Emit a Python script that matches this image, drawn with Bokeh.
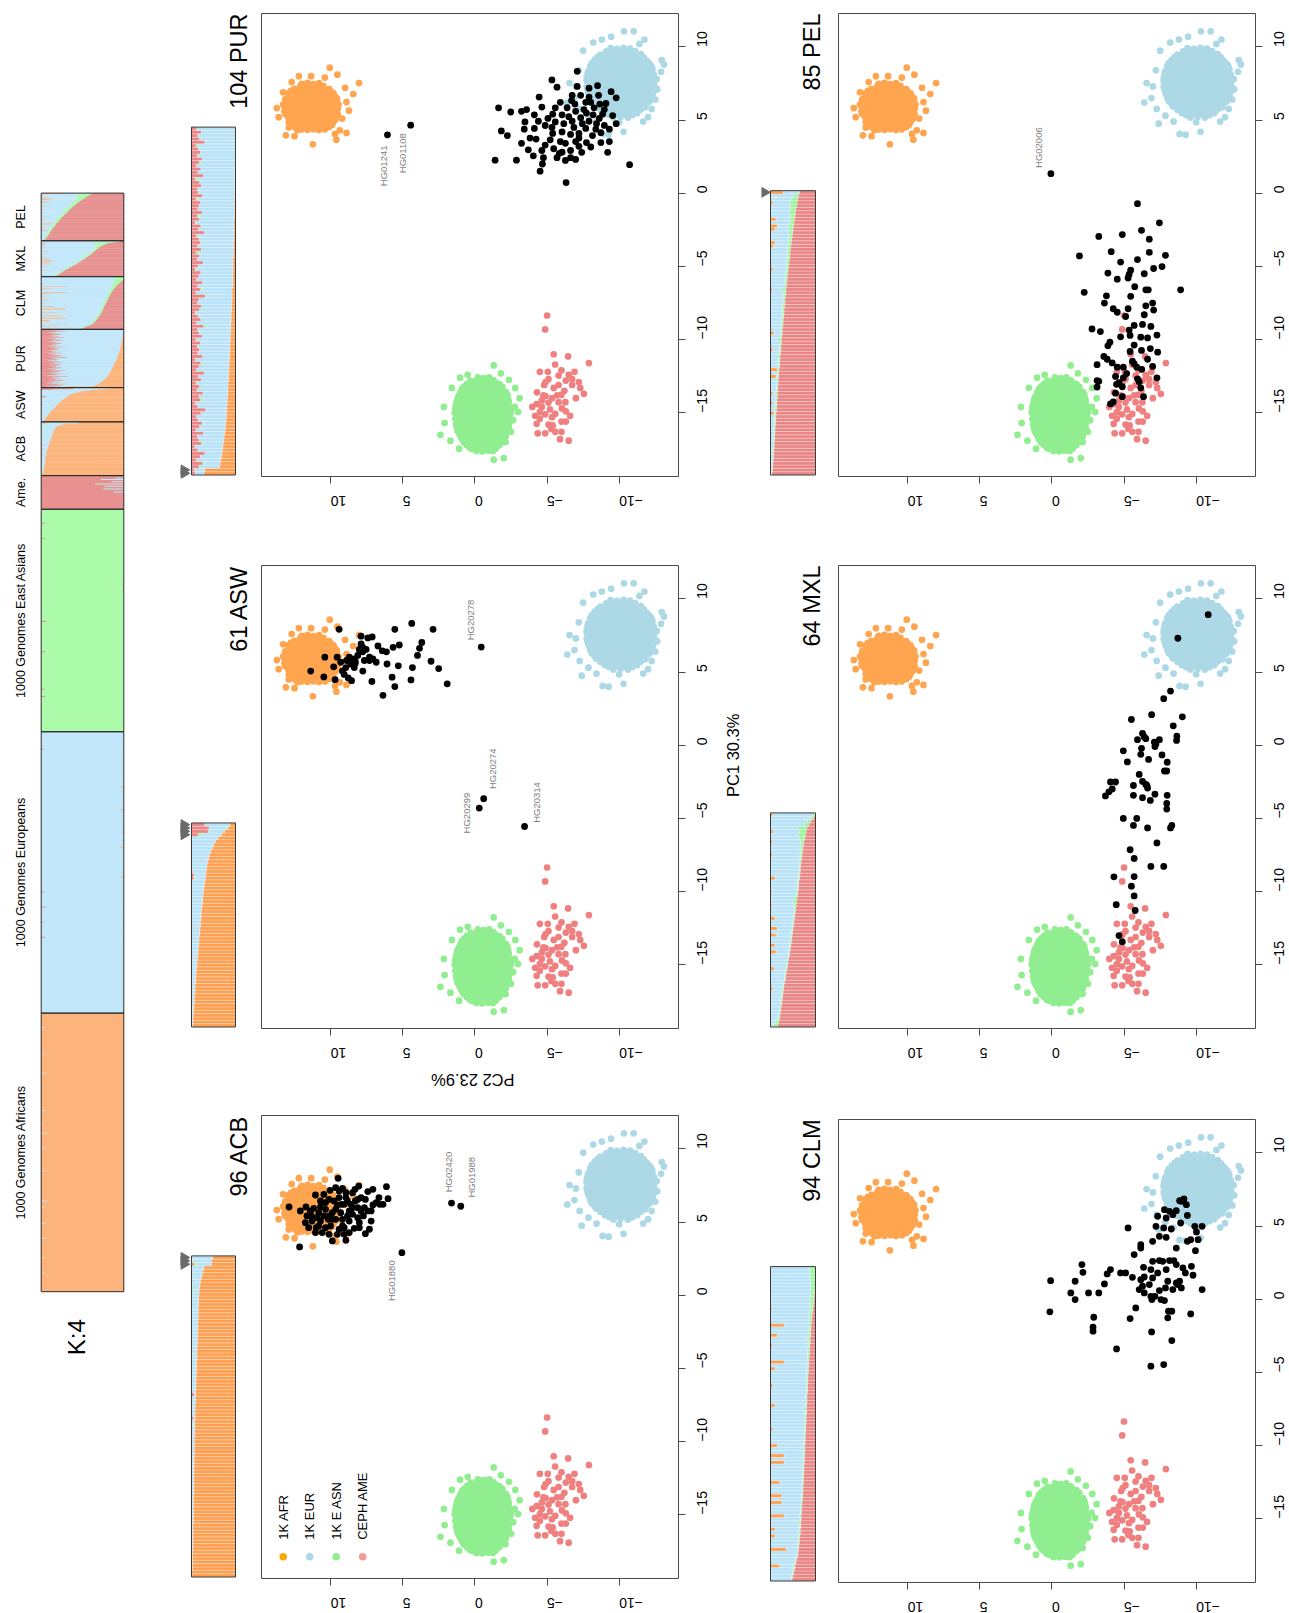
import math
from bokeh.plotting import figure
from bokeh.models import Range1d, LinearAxis, FixedTicker
from bokeh.layouts import row, column
from bokeh.embed import file_html
from bokeh.resources import INLINE
from bokeh.core.properties import value

# ------------------------------------------------------------------
# PCA coordinates (PC2, PC1) of the reference panels, shared by all plots
# ------------------------------------------------------------------
AFR_REF = [
    (10.8,7.52),(11.2,7.46),(11.6,7.55),(12.0,7.47),
    (10.1,7.12),(10.5,7.2),(10.9,7.13),(11.3,7.18),(11.7,7.11),(12.1,7.19),(12.5,7.14),
    (9.8,6.83),(10.2,6.77),(10.6,6.84),(11.0,6.78),(11.4,6.82),(11.8,6.76),(12.2,6.84),(12.6,6.79),(12.95,6.83),
    (9.55,6.47),(9.95,6.42),(10.35,6.48),(10.75,6.43),(11.15,6.47),(11.55,6.41),(11.95,6.48),(12.35,6.44),(12.75,6.46),(13.15,6.42),
    (9.45,6.08),(9.85,6.13),(10.25,6.07),(10.65,6.12),(11.05,6.09),(11.45,6.13),(11.85,6.07),(12.25,6.11),(12.65,6.08),(13.05,6.12),(13.3,6.06),
    (9.5,5.77),(9.9,5.72),(10.3,5.78),(10.7,5.73),(11.1,5.76),(11.5,5.71),(11.9,5.78),(12.3,5.74),(12.7,5.77),(13.1,5.72),
    (9.5,5.38),(9.9,5.43),(10.3,5.37),(10.7,5.42),(11.1,5.39),(11.5,5.43),(11.9,5.37),(12.3,5.41),(12.7,5.38),(13.15,5.42),
    (9.65,5.07),(10.05,5.02),(10.45,5.08),(10.85,5.03),(11.25,5.06),(11.65,5.01),(12.05,5.08),(12.45,5.04),(12.85,5.07),
    (9.9,4.68),(10.3,4.73),(10.7,4.67),(11.1,4.72),(11.5,4.69),(11.9,4.73),(12.3,4.67),(12.75,4.71),
    (10.4,4.37),(10.8,4.32),(11.2,4.38),(11.6,4.33),(12.0,4.36),(12.3,4.31),
    (10.5,7.33),(10.9,7.36),(11.3,7.31),(11.7,7.35),(12.1,7.32),
    (10.0,6.97),(10.4,7.0),(10.8,6.96),(11.2,7.0),(11.6,6.95),(12.0,6.99),(12.4,6.96),(12.75,7.0),
    (9.7,6.62),(10.1,6.65),(10.5,6.61),(10.9,6.64),(11.3,6.6),(11.7,6.65),(12.1,6.62),(12.5,6.64),(12.9,6.61),
    (9.6,6.27),(10.0,6.3),(10.4,6.26),(10.8,6.29),(11.2,6.25),(11.6,6.3),(12.0,6.27),(12.4,6.29),(12.8,6.26),(13.15,6.3),
    (9.6,5.92),(10.0,5.95),(10.4,5.91),(10.8,5.94),(11.2,5.9),(11.6,5.95),(12.0,5.92),(12.4,5.94),(12.8,5.91),(13.2,5.95),
    (9.6,5.57),(10.0,5.6),(10.4,5.56),(10.8,5.59),(11.2,5.55),(11.6,5.6),(12.0,5.57),(12.4,5.59),(12.8,5.56),(13.2,5.6),
    (9.7,5.22),(10.1,5.25),(10.5,5.21),(10.9,5.24),(11.3,5.2),(11.7,5.25),(12.1,5.22),(12.5,5.24),(12.95,5.21),
    (9.8,4.87),(10.2,4.9),(10.6,4.86),(11.0,4.89),(11.4,4.85),(11.8,4.9),(12.2,4.87),(12.6,4.89),(12.9,4.86),
    (10.1,4.52),(10.5,4.55),(10.9,4.51),(11.3,4.54),(11.7,4.5),(12.1,4.55),(12.5,4.52),
    (10.06,8.58),(11.35,8.0),(9.53,8.1),(8.03,7.53),(8.43,6.78),(13.73,5.82),(8.9,6.23),(8.73,5.64),
    (9.36,4.3),(8.9,4.12),(9.6,3.66),(11.23,3.34),(13.1,3.96),(12.5,3.9),(12.7,7.6),(13.3,6.9),
    (9.0,7.2),(12.9,4.5),(9.2,5.1),(10.4,7.9),(12.2,8.0),(13.6,5.2),(9.7,4.05),
]
EUR_REF = [
    (-9.4,9.92),(-9.85,9.86),(-10.3,9.93),(-10.75,9.88),
    (-8.7,9.48),(-9.1,9.53),(-9.5,9.47),(-9.9,9.52),(-10.3,9.46),(-10.7,9.53),(-11.1,9.48),(-11.5,9.51),
    (-8.3,9.12),(-8.7,9.07),(-9.1,9.13),(-9.5,9.08),(-9.9,9.11),(-10.3,9.06),(-10.7,9.13),(-11.1,9.09),(-11.5,9.12),(-11.9,9.07),
    (-8.0,8.68),(-8.4,8.73),(-8.8,8.67),(-9.2,8.72),(-9.6,8.69),(-10.0,8.73),(-10.4,8.67),(-10.8,8.71),(-11.2,8.68),(-11.6,8.72),(-12.0,8.67),(-12.2,8.74),
    (-7.85,8.32),(-8.25,8.27),(-8.65,8.33),(-9.05,8.28),(-9.45,8.31),(-9.85,8.26),(-10.25,8.33),(-10.65,8.29),(-11.05,8.32),(-11.45,8.27),(-11.85,8.31),(-12.3,8.28),
    (-7.75,7.88),(-8.15,7.93),(-8.55,7.87),(-8.95,7.92),(-9.35,7.89),(-9.75,7.93),(-10.15,7.87),(-10.55,7.91),(-10.95,7.88),(-11.35,7.92),(-11.75,7.87),(-12.15,7.91),(-12.45,7.88),
    (-7.9,7.52),(-8.3,7.47),(-8.7,7.53),(-9.1,7.48),(-9.5,7.51),(-9.9,7.46),(-10.3,7.53),(-10.7,7.49),(-11.1,7.52),(-11.5,7.47),(-11.9,7.51),(-12.3,7.48),
    (-7.8,7.08),(-8.2,7.13),(-8.6,7.07),(-9.0,7.12),(-9.4,7.09),(-9.8,7.13),(-10.2,7.07),(-10.6,7.11),(-11.0,7.08),(-11.4,7.12),(-11.8,7.07),(-12.2,7.11),(-12.4,7.06),
    (-7.95,6.72),(-8.35,6.67),(-8.75,6.73),(-9.15,6.68),(-9.55,6.71),(-9.95,6.66),(-10.35,6.73),(-10.75,6.69),(-11.15,6.72),(-11.55,6.67),(-11.95,6.71),(-12.3,6.68),
    (-8.1,6.28),(-8.5,6.33),(-8.9,6.27),(-9.3,6.32),(-9.7,6.29),(-10.1,6.33),(-10.5,6.27),(-10.9,6.31),(-11.3,6.28),(-11.7,6.32),(-12.1,6.27),
    (-8.4,5.92),(-8.8,5.87),(-9.2,5.93),(-9.6,5.88),(-10.0,5.91),(-10.4,5.86),(-10.8,5.93),(-11.2,5.89),(-11.6,5.92),(-11.8,5.87),
    (-9.0,5.48),(-9.4,5.53),(-9.8,5.47),(-10.2,5.52),(-10.6,5.49),(-11.0,5.53),(-11.25,5.47),
    (-9.6,5.18),(-10.1,5.23),(-10.6,5.17),
    (-9.1,9.7),(-9.5,9.73),(-9.9,9.69),(-10.3,9.72),(-10.7,9.68),(-11.1,9.71),
    (-8.5,9.3),(-8.9,9.33),(-9.3,9.29),(-9.7,9.32),(-10.1,9.28),(-10.5,9.33),(-10.9,9.3),(-11.3,9.32),(-11.7,9.29),
    (-8.1,8.9),(-8.5,8.93),(-8.9,8.89),(-9.3,8.92),(-9.7,8.88),(-10.1,8.93),(-10.5,8.9),(-10.9,8.92),(-11.3,8.89),(-11.7,8.93),(-12.05,8.9),
    (-8.0,8.5),(-8.4,8.53),(-8.8,8.49),(-9.2,8.52),(-9.6,8.48),(-10.0,8.53),(-10.4,8.5),(-10.8,8.52),(-11.2,8.49),(-11.6,8.53),(-12.0,8.5),(-12.3,8.52),
    (-7.8,8.1),(-8.2,8.13),(-8.6,8.09),(-9.0,8.12),(-9.4,8.08),(-9.8,8.13),(-10.2,8.1),(-10.6,8.12),(-11.0,8.09),(-11.4,8.13),(-11.8,8.1),(-12.2,8.12),(-12.4,8.09),
    (-7.75,7.7),(-8.1,7.73),(-8.5,7.69),(-8.9,7.72),(-9.3,7.68),(-9.7,7.73),(-10.1,7.7),(-10.5,7.72),(-10.9,7.69),(-11.3,7.73),(-11.7,7.7),(-12.1,7.72),(-12.45,7.69),
    (-7.75,7.3),(-8.1,7.33),(-8.5,7.29),(-8.9,7.32),(-9.3,7.28),(-9.7,7.33),(-10.1,7.3),(-10.5,7.32),(-10.9,7.29),(-11.3,7.33),(-11.7,7.3),(-12.1,7.32),(-12.45,7.29),
    (-7.85,6.9),(-8.2,6.93),(-8.6,6.89),(-9.0,6.92),(-9.4,6.88),(-9.8,6.93),(-10.2,6.9),(-10.6,6.92),(-11.0,6.89),(-11.4,6.93),(-11.8,6.9),(-12.2,6.92),(-12.35,6.89),
    (-8.0,6.5),(-8.4,6.53),(-8.8,6.49),(-9.2,6.52),(-9.6,6.48),(-10.0,6.53),(-10.4,6.5),(-10.8,6.52),(-11.2,6.49),(-11.6,6.53),(-12.0,6.5),(-12.2,6.52),
    (-8.3,6.1),(-8.7,6.13),(-9.1,6.09),(-9.5,6.12),(-9.9,6.08),(-10.3,6.13),(-10.7,6.1),(-11.1,6.12),(-11.5,6.09),(-11.9,6.13),
    (-8.7,5.7),(-9.1,5.73),(-9.5,5.69),(-9.9,5.72),(-10.3,5.68),(-10.7,5.73),(-11.1,5.7),(-11.5,5.72),
    (-9.3,5.35),(-9.7,5.38),(-10.1,5.34),(-10.5,5.37),(-10.9,5.33),
    (-6.4,6.2),(-6.56,7.53),(-7.5,9.74),(-8.2,10.3),(-9.44,10.7),(-10.33,11.06),(-11.0,11.06),(-11.75,10.5),
    (-12.95,9.1),(-12.6,7.8),(-12.64,7.1),(-12.25,5.76),(-12.0,5.2),(-11.66,4.9),(-10.3,4.2),(-9.27,4.0),
    (-8.85,4.05),(-7.4,4.75),(-8.43,4.9),(-7.87,5.3),(-7.26,5.76),(-10.0,4.85),(-7.0,7.3),(-7.2,8.4),
    (-12.9,8.3),(-13.1,8.8),(-11.4,10.2),(-8.8,10.5),(-12.5,6.4),(-6.9,6.5),
]
EAS_REF = [
    (-0.2,-12.58),(-0.6,-12.63),(-1.0,-12.57),
    (0.55,-13.02),(0.15,-12.97),(-0.25,-13.03),(-0.65,-12.98),(-1.05,-13.01),(-1.45,-12.96),(-1.7,-13.03),
    (0.9,-13.38),(0.5,-13.43),(0.1,-13.37),(-0.3,-13.42),(-0.7,-13.39),(-1.1,-13.43),(-1.5,-13.37),(-1.9,-13.41),
    (1.1,-13.82),(0.7,-13.77),(0.3,-13.83),(-0.1,-13.78),(-0.5,-13.81),(-0.9,-13.76),(-1.3,-13.83),(-1.7,-13.79),(-2.1,-13.82),(-2.25,-13.77),
    (1.25,-14.18),(0.85,-14.23),(0.45,-14.17),(0.05,-14.22),(-0.35,-14.19),(-0.75,-14.23),(-1.15,-14.17),(-1.55,-14.21),(-1.95,-14.18),(-2.35,-14.22),
    (1.35,-14.62),(0.95,-14.57),(0.55,-14.63),(0.15,-14.58),(-0.25,-14.61),(-0.65,-14.56),(-1.05,-14.63),(-1.45,-14.59),(-1.85,-14.62),(-2.25,-14.57),(-2.45,-14.61),
    (1.4,-14.98),(1.0,-15.03),(0.6,-14.97),(0.2,-15.02),(-0.2,-14.99),(-0.6,-15.03),(-1.0,-14.97),(-1.4,-15.01),(-1.8,-14.98),(-2.2,-15.02),(-2.5,-14.97),
    (1.35,-15.42),(0.95,-15.37),(0.55,-15.43),(0.15,-15.38),(-0.25,-15.41),(-0.65,-15.36),(-1.05,-15.43),(-1.45,-15.39),(-1.85,-15.42),(-2.25,-15.37),(-2.45,-15.41),
    (1.3,-15.78),(0.9,-15.83),(0.5,-15.77),(0.1,-15.82),(-0.3,-15.79),(-0.7,-15.83),(-1.1,-15.77),(-1.5,-15.81),(-1.9,-15.78),(-2.3,-15.82),
    (1.2,-16.22),(0.8,-16.17),(0.4,-16.23),(0.0,-16.18),(-0.4,-16.21),(-0.8,-16.16),(-1.2,-16.23),(-1.6,-16.19),(-2.0,-16.22),(-2.3,-16.17),
    (1.0,-16.58),(0.6,-16.63),(0.2,-16.57),(-0.2,-16.62),(-0.6,-16.59),(-1.0,-16.63),(-1.4,-16.57),(-1.8,-16.61),(-2.15,-16.58),
    (0.75,-17.02),(0.35,-16.97),(-0.05,-17.03),(-0.45,-16.98),(-0.85,-17.01),(-1.25,-16.96),(-1.65,-17.03),(-1.9,-16.99),
    (0.35,-17.38),(-0.05,-17.43),(-0.45,-17.37),(-0.85,-17.42),(-1.25,-17.39),(-1.45,-17.43),
    (0.3,-12.8),(-0.1,-12.83),(-0.5,-12.79),(-0.9,-12.82),(-1.3,-12.78),
    (0.75,-13.2),(0.35,-13.23),(-0.05,-13.19),(-0.45,-13.22),(-0.85,-13.18),(-1.25,-13.23),(-1.65,-13.2),(-1.9,-13.22),
    (1.0,-13.6),(0.6,-13.63),(0.2,-13.59),(-0.2,-13.62),(-0.6,-13.58),(-1.0,-13.63),(-1.4,-13.6),(-1.8,-13.62),(-2.15,-13.59),
    (1.2,-14.0),(0.8,-14.03),(0.4,-13.99),(0.0,-14.02),(-0.4,-13.98),(-0.8,-14.03),(-1.2,-14.0),(-1.6,-14.02),(-2.0,-13.99),(-2.3,-14.03),
    (1.3,-14.4),(0.9,-14.43),(0.5,-14.39),(0.1,-14.42),(-0.3,-14.38),(-0.7,-14.43),(-1.1,-14.4),(-1.5,-14.42),(-1.9,-14.39),(-2.3,-14.43),
    (1.35,-14.8),(0.95,-14.83),(0.55,-14.79),(0.15,-14.82),(-0.25,-14.78),(-0.65,-14.83),(-1.05,-14.8),(-1.45,-14.82),(-1.85,-14.79),(-2.25,-14.83),(-2.5,-14.8),
    (1.2,-15.2),(0.8,-15.23),(0.4,-15.19),(0.0,-15.22),(-0.4,-15.18),(-0.8,-15.23),(-1.2,-15.2),(-1.6,-15.22),(-2.0,-15.19),(-2.4,-15.23),
    (1.2,-15.6),(0.8,-15.63),(0.4,-15.59),(0.0,-15.62),(-0.4,-15.58),(-0.8,-15.63),(-1.2,-15.6),(-1.6,-15.62),(-2.0,-15.59),(-2.4,-15.63),
    (1.25,-16.0),(0.85,-16.03),(0.45,-15.99),(0.05,-16.02),(-0.35,-15.98),(-0.75,-16.03),(-1.15,-16.0),(-1.55,-16.02),(-1.95,-15.99),(-2.35,-16.03),
    (1.1,-16.4),(0.7,-16.43),(0.3,-16.39),(-0.1,-16.42),(-0.5,-16.38),(-0.9,-16.43),(-1.3,-16.4),(-1.7,-16.42),(-2.1,-16.39),
    (0.9,-16.8),(0.5,-16.83),(0.1,-16.79),(-0.3,-16.82),(-0.7,-16.78),(-1.1,-16.83),(-1.5,-16.8),(-1.95,-16.82),
    (0.55,-17.2),(0.15,-17.23),(-0.25,-17.19),(-0.65,-17.22),(-1.05,-17.18),(-1.45,-17.23),(-1.7,-17.2),
    (-0.1,-17.6),(-0.5,-17.63),(-0.9,-17.59),
    (2.39,-16.5),(2.1,-15.7),(2.15,-14.6),(1.03,-12.6),(0.5,-12.4),(-1.3,-11.76),(-2.36,-12.74),(-3.1,-14.0),
    (-2.76,-14.6),(-3.0,-14.95),(-2.65,-15.5),(-2.13,-17.0),(-2.0,-18.1),(-1.3,-18.2),(-1.24,-17.6),(1.1,-17.45),
    (0.2,-17.45),(1.6,-13.3),(-2.8,-13.3),(-2.5,-16.3),(1.7,-16.9),(-1.8,-12.3),
]
AME_REF = [
    (-5.0,-8.35),(-4.87,-9.3),(-5.46,-11.0),(-6.46,-11.15),(-7.9,-11.6),(-4.5,-12.2),(-5.05,-12.2),(-5.56,-11.7),(-6.0,-12.1),(-6.5,-12.4),
    (-6.9,-12.2),(-4.8,-13.1),(-5.46,-13.3),(-5.8,-13.1),(-6.3,-12.8),(-6.74,-13.1),(-7.3,-13.3),(-7.55,-13.7),(-3.98,-14.6),(-4.28,-14.4),
    (-4.64,-14.15),(-5.1,-14.3),(-5.34,-14.0),(-5.7,-13.8),(-6.0,-13.77),(-6.27,-14.27),(-6.3,-14.9),(-4.17,-15.2),(-4.5,-14.95),(-4.87,-15.1),
    (-5.2,-14.77),(-5.57,-15.07),(-4.28,-15.75),(-5.1,-15.8),(-5.39,-15.86),(-6.0,-15.6),(-6.3,-15.6),(-4.35,-16.4),(-4.87,-16.4),(-6.0,-16.3),
    (-6.5,-16.9),(-5.57,-16.3),(-4.5,-15.4),(-4.75,-13.8),(-5.1,-12.7),(-5.8,-12.45),(-6.74,-12.7),(-7.2,-12.9),(-5.34,-15.3),(-5.8,-14.27),
    (-6.03,-14.7),(-4.64,-14.6),(-4.9,-13.85),(-4.3,-13.6),(-6.6,-15.2),(-5.9,-16.8),(-7.0,-14.0),(-4.9,-12.9),(-5.3,-16.1),(-6.2,-13.5),
]

# ------------------------------------------------------------------
# Admixed samples projected on the same axes (PC2, PC1)
# ------------------------------------------------------------------
ACB_PTS = [
    (12.15,3.30),(12.88,6.03),(11.71,6.03),(11.05,6.85),(9.48,7.99),(9.18,7.30),(8.94,7.01),(8.05,7.46),(7.07,7.24),(6.13,7.42),
    (6.02,6.60),(6.37,6.21),(7.07,6.17),(7.59,6.55),(7.89,6.67),(8.29,6.44),(8.48,5.98),(8.71,5.76),(9.22,6.21),(9.41,6.67),
    (9.76,6.44),(10.11,6.55),(10.35,5.87),(10.70,6.03),(10.82,5.64),(11.17,5.94),(11.33,5.42),(11.52,4.62),(11.00,4.62),(10.35,4.62),
    (10.16,5.19),(9.65,5.19),(9.18,5.19),(9.06,4.62),(9.53,4.16),(9.88,3.71),(9.06,4.16),(8.36,4.57),(8.01,4.62),(7.59,4.21),
    (7.31,4.51),(7.19,5.07),(8.12,5.30),(8.48,5.53),(9.30,5.64),(9.88,5.64),(10.47,5.42),(10.70,5.07),(10.00,4.73),(8.94,6.67),
    (8.12,5.98),(7.66,5.98),(7.42,5.76),(10.11,5.42),(10.93,5.30),(9.41,7.12),(8.83,6.44),(9.65,5.87),(10.35,6.33),(7.42,7.08),
    (6.84,6.33),(6.60,6.21),(11.64,5.42),(11.29,5.07),(10.58,4.28),(9.41,4.51),(8.71,5.07),(7.89,5.76),(8.59,6.21),(9.65,7.35),
    (9.06,6.21),(10.04,7.17),(8.48,7.01),(8.12,6.55),(7.73,5.42),(8.83,5.42),(9.53,6.17),(10.70,6.44),(11.40,5.76),(10.82,4.73),
    (10.11,4.16),(8.71,4.28),(8.01,4.96),(7.19,5.76),(6.65,6.67),(10.47,6.89),(9.88,5.19),(9.18,4.73),(8.31,7.24),(11.05,4.28),
    (12.10,5.76),(11.75,4.96),(8.94,3.75),
]
ACB_OUT = {"HG01880": (5.06, 2.91), "HG02420": (1.62, 6.30), "HG01988": (0.98, 6.08)}

ASW_PTS = [
    (9.41,7.92),(7.89,7.45),(7.42,7.33),(7.12,7.40),(5.55,7.92),(4.38,8.32),(2.90,7.92),(3.68,7.02),(3.84,6.62),(5.24,6.85),
    (5.67,6.69),(6.13,6.38),(6.42,6.45),(6.72,6.78),(7.77,6.69),(8.01,6.55),(7.54,6.55),(7.31,6.02),(7.66,5.79),(8.29,5.60),
    (8.71,6.02),(8.90,5.79),(8.48,5.90),(8.94,5.31),(9.18,5.07),(8.78,4.60),(8.55,4.41),(7.77,5.07),(6.84,5.67),(6.09,5.55),
    (5.31,5.43),(4.33,5.31),(3.98,6.14),(3.04,5.74),(2.51,5.24),(1.92,4.20),(4.43,4.46),(5.55,4.01),(5.74,4.65),(6.37,3.41),
    (7.14,4.36),(9.69,4.48),(10.47,4.67),(11.38,5.07),(10.40,6.02),(9.55,6.02),(9.79,5.36),(7.89,6.92),(8.29,5.74),(7.31,5.79),
    (8.59,5.55),(8.12,6.14),(9.30,5.67),(7.07,5.90),(7.77,6.38),(8.36,5.31),(9.06,4.84),
]
ASW_OUT = {"HG20278": (-0.44, 6.71), "HG20274": (-0.61, -3.65), "HG20299": (-0.30, -4.29), "HG20314": (-3.44, -5.55)}

PUR_PTS = [
    (-5.34,7.74),(-5.69,7.25),(-7.09,8.33),(-8.50,7.35),(-4.45,6.57),(-6.74,6.69),(-7.33,6.69),(-7.91,6.57),(-8.57,6.69),(-9.44,6.94),
    (-9.79,6.52),(-9.08,6.13),(-1.64,5.84),(-2.48,5.55),(-3.23,5.60),(-3.58,5.72),(-4.12,5.36),(-4.64,5.89),(-5.39,5.40),(-6.04,5.36),
    (-6.39,5.84),(-6.93,6.09),(-7.56,5.72),(-8.26,5.84),(-8.85,5.40),(-9.55,5.31),(-5.57,4.87),(-6.16,4.75),(-6.74,4.92),(-7.33,5.16),
    (-7.91,4.92),(-8.43,4.75),(-8.97,4.63),(-9.32,4.38),(-1.83,4.26),(-2.25,3.94),(-3.42,4.38),(-4.12,4.43),(-5.39,4.09),(-6.04,4.19),
    (-6.63,4.02),(-7.21,4.09),(-7.68,4.43),(-8.15,3.94),(-8.73,4.14),(-4.24,3.70),(-4.87,3.29),(-5.46,3.04),(-6.04,2.80),(-6.63,2.92),
    (-7.21,3.21),(-7.73,3.46),(-8.73,3.46),(-3.70,2.97),(-4.05,2.56),(-4.75,2.43),(-6.27,2.24),(-6.98,2.31),(-9.20,2.80),(-1.40,2.26),
    (-2.88,2.26),(-4.68,2.00),(-4.52,1.51),(-6.32,0.73),(-10.72,1.95),(-5.85,2.73),(-5.22,3.65),(-6.86,4.50),(-7.45,4.75),(-8.19,5.36),
    (-7.73,5.48),(-4.87,4.63),(-5.92,3.53),(-8.03,6.21),(-6.98,5.60),(-6.51,5.23),(-5.06,5.11),(-8.62,5.11),(-8.97,5.72),(-8.03,3.16),
    (-7.21,3.77),(-5.34,4.50),(-8.38,4.38),(-6.98,3.53),(-6.63,2.43),(-5.57,5.84),(-4.40,4.92),(-5.92,6.21),(-7.68,6.21),(-7.09,7.30),
    (-6.70,6.33),(-9.79,4.75),(-7.91,7.18),(-8.66,6.09),(-3.82,3.77),(-3.23,3.41),(-4.64,2.92),(-5.69,2.43),(-6.27,3.41),(-9.32,3.53),
    (-7.40,2.80),(-3.47,4.87),
]
PUR_OUT = {"HG01241": (6.06, 3.99), "HG01108": (4.45, 4.65)}

CLM_PTS = [
    (-8.97,6.69),(-9.15,6.85),(-9.32,6.46),(-8.85,6.73),(-7.80,6.12),(-8.15,6.01),(-8.38,5.78),(-8.62,6.05),(-7.92,5.55),(-7.33,5.67),
    (-7.75,4.87),(-8.27,4.80),(-9.39,5.73),(-7.21,4.98),(-7.45,4.30),(-7.92,4.23),(-8.92,5.21),(-9.90,4.98),(-10.41,4.98),(-10.02,4.60),
    (-9.62,4.07),(-10.13,4.07),(-9.39,3.96),(-9.95,3.32),(-8.62,3.50),(-6.98,3.96),(-6.16,3.73),(-6.16,3.50),(-5.70,3.05),(-5.28,4.87),
    (-6.98,2.59),(-7.45,2.64),(-7.68,2.59),(-8.15,2.64),(-6.35,2.18),(-6.86,2.03),(-7.92,2.03),(-8.62,2.37),(-9.08,2.14),(-9.67,2.25),
    (-9.78,1.64),(-9.25,1.80),(-8.85,1.23),(-8.73,1.00),(-8.97,0.77),(-8.38,0.66),(-8.62,1.11),(-8.03,1.23),(-6.98,1.46),(-6.40,1.52),
    (-6.16,1.34),(-6.05,0.66),(-6.28,0.89),(-6.75,1.00),(-6.40,0.43),(-6.93,-0.02),(-7.45,0.59),(-7.87,0.77),(-7.80,-0.09),(-8.08,-0.82),
    (-8.31,-0.82),(-8.03,-1.27),(-9.62,-1.00),(-10.41,0.66),(-6.86,0.20),(-5.58,1.50),(-5.11,1.80),(-4.76,1.80),(-4.06,2.03),(-3.83,1.73),
    (-3.64,1.05),(-2.08,2.37),(-2.15,1.84),(-1.61,1.23),(-1.31,0.43),(-2.54,0.43),(-3.25,0.43),(-1.61,-0.02),(0.09,1.27),(0.14,-0.86),
    (-2.90,-1.23),(-2.85,-1.91),(-2.85,-2.18),(-5.42,-1.32),(-5.81,-0.59),(-6.91,-2.23),(-8.31,-2.82),(-4.48,-3.39),(-6.86,-4.57),(-7.75,-4.46),
    (-7.56,-0.02),(-7.14,0.20),(-7.33,1.80),(-8.45,2.64),
]
CLM_OUT = {}

MXL_PTS = [
    (-10.83,8.92),(-8.73,7.31),(-8.22,3.70),(-7.75,3.18),(-6.91,2.09),(-9.04,1.94),(-5.51,1.76),(-8.41,1.33),(-8.66,0.62),(-8.64,0.33),
    (-5.93,0.38),(-6.28,0.81),(-6.40,0.57),(-6.51,0.45),(-7.10,0.21),(-7.45,0.38),(-7.14,-0.09),(-7.21,0.09),(-6.21,-0.21),(-4.95,-0.38),
    (-7.63,-0.66),(-6.70,-0.97),(-7.99,-1.16),(-5.23,-1.14),(-7.80,-1.76),(-7.96,-1.76),(-6.05,-1.99),(-5.65,-2.75),(-6.28,-2.47),(-6.51,-2.68),
    (-6.63,-2.92),(-6.28,-3.58),(-5.65,-3.42),(-7.14,-3.34),(-6.82,-3.77),(-7.99,-3.42),(-7.96,-3.98),(-7.96,-4.36),(-4.06,-2.51),(-4.41,-2.51),
    (-4.18,-2.99),(-3.71,-3.46),(-3.95,-3.18),(-4.95,-5.00),(-5.88,-5.00),(-5.65,-5.48),(-6.63,-5.65),(-8.31,-5.48),(-8.22,-5.65),(-7.28,-6.67),
    (-5.42,-7.14),(-5.70,-7.73),(-6.86,-8.28),(-7.75,-8.28),(-4.30,-8.99),(-5.70,-8.97),(-5.51,-9.63),(-5.70,-10.29),(-4.46,-10.89),(-5.77,-11.29),
    (-4.65,-13.00),(-4.88,-13.43),(-6.58,-2.75),(-6.16,-0.62),
]
MXL_OUT = {}

PEL_PTS = [
    (-5.93,-0.71),(-7.45,-2.02),(-6.21,-2.53),(-4.88,-2.82),(-3.25,-2.95),(-6.75,-3.14),(-4.11,-3.99),(-1.91,-4.28),(-6.75,-4.04),(-7.87,-4.24),
    (-5.93,-4.53),(-4.76,-4.70),(-7.63,-5.01),(-7.05,-5.14),(-5.46,-5.26),(-5.35,-5.55),(-5.28,-5.79),(-6.40,-5.50),(-3.88,-5.45),(-5.74,-6.38),
    (-6.51,-6.60),(-6.68,-6.60),(-5.46,-7.04),(-8.92,-6.60),(-2.24,-6.77),(-3.78,-7.01),(-3.64,-7.50),(-6.98,-7.50),(-4.25,-7.89),(-4.53,-8.13),
    (-5.28,-7.89),(-7.05,-7.98),(-6.40,-8.30),(-5.70,-9.03),(-6.28,-8.96),(-6.86,-9.10),(-2.78,-9.27),(-3.36,-9.45),(-4.76,-9.81),(-5.35,-9.35),
    (-5.42,-9.71),(-6.16,-9.83),(-6.63,-9.88),(-7.28,-9.69),(-4.02,-10.18),(-3.88,-10.42),(-5.42,-10.81),(-6.21,-10.74),(-6.82,-10.61),(-7.33,-10.86),
    (-3.60,-11.15),(-3.83,-11.34),(-4.18,-11.59),(-3.13,-11.71),(-4.53,-11.88),(-4.95,-11.88),(-5.70,-11.64),(-5.88,-11.88),(-6.23,-12.03),(-6.98,-11.83),
    (-4.41,-12.51),(-4.95,-12.61),(-5.93,-12.68),(-6.05,-12.88),(-7.28,-12.61),(-3.25,-12.85),(-3.13,-13.24),(-4.88,-13.22),(-6.16,-13.29),(-4.41,-13.66),
    (-4.88,-13.90),(-6.35,-13.90),(-4.06,-14.39),(-4.25,-14.26),(-4.48,-13.05),(-5.18,-12.32),(-5.58,-11.47),(-3.13,-12.80),(-4.65,-12.93),(-5.70,-10.37),
    (-5.11,-8.42),(-6.51,-7.69),(-4.53,-5.87),(-6.63,-11.34),
]
PEL_OUT = {"HG02006": (0.07, 1.34)}

# ------------------------------------------------------------------
# ADMIXTURE K=4 ancestry fractions, one value per individual (bottom -> top)
# ------------------------------------------------------------------
ACB_AFR = [0.99,0.99,0.98,0.98,0.98,0.98,0.98,0.98,0.97,0.97,
           0.97,0.97,0.97,0.97,0.97,0.97,0.96,0.96,0.96,0.96,
           0.96,0.96,0.96,0.96,0.96,0.95,0.95,0.95,0.95,0.95,
           0.95,0.95,0.95,0.95,0.95,0.94,0.94,0.94,0.94,0.94,
           0.94,0.94,0.93,0.93,0.93,0.93,0.93,0.92,0.92,0.92,
           0.92,0.92,0.91,0.91,0.91,0.91,0.90,0.90,0.90,0.90,
           0.90,0.89,0.89,0.89,0.89,0.88,0.88,0.88,0.88,0.87,
           0.87,0.87,0.87,0.86,0.86,0.86,0.86,0.85,0.85,0.85,
           0.85,0.84,0.84,0.84,0.83,0.83,0.82,0.81,0.80,0.78,
           0.76,0.74,0.72,0.55,0.55,0.52]
ACB_EAS = {45: 0.03, 66: 0.02, 85: 0.04, 87: 0.03, 89: 0.03, 93: 0.07}
ACB_AME = {35: 0.02, 38: 0.02, 47: 0.05, 54: 0.06, 93: 0.05, 94: 0.02}

ASW_AFR = [0.98,0.97,0.97,0.96,0.96,0.95,0.95,0.94,0.94,0.93,
           0.93,0.92,0.92,0.91,0.91,0.90,0.90,0.89,0.88,0.88,
           0.87,0.86,0.86,0.85,0.84,0.84,0.83,0.82,0.82,0.81,
           0.80,0.80,0.79,0.78,0.78,0.77,0.76,0.75,0.75,0.74,
           0.73,0.72,0.71,0.70,0.69,0.68,0.67,0.66,0.65,0.63,
           0.61,0.59,0.56,0.53,0.50,0.46,0.40,0.32,0.25,0.17,0.13]
ASW_EAS = {5: 0.02, 44: 0.02, 57: 0.08, 58: 0.03}
ASW_AME = {20: 0.02, 30: 0.02, 44: 0.05, 45: 0.06, 57: 0.15, 58: 0.38, 59: 0.40, 60: 0.30}

PUR_AFR = [0.72,0.70,0.37,0.35,0.34,0.32,0.31,0.30,0.29,0.28,
           0.27,0.26,0.25,0.24,0.23,0.23,0.22,0.21,0.21,0.20,
           0.20,0.19,0.19,0.18,0.18,0.18,0.17,0.17,0.16,0.16,
           0.16,0.15,0.15,0.15,0.14,0.14,0.14,0.13,0.13,0.13,
           0.12,0.12,0.12,0.11,0.11,0.11,0.10,0.10,0.10,0.09,
           0.09,0.09,0.08,0.08,0.08,0.08,0.07,0.07,0.07,0.07,
           0.06,0.06,0.06,0.06,0.06,0.05,0.05,0.05,0.05,0.05,
           0.04,0.04,0.04,0.04,0.04,0.04,0.03,0.03,0.03,0.03,
           0.03,0.03,0.03,0.02,0.02,0.02,0.02,0.02,0.02,0.02,
           0.02,0.01,0.01,0.01,0.01,0.01,0.01,0.01,0.01,0.01,
           0.00,0.00,0.00,0.00]
PUR_AME = [0.08,0.06,0.17,0.25,0.11,0.20,0.30,0.14,0.07,0.22,
           0.17,0.13,0.27,0.10,0.18,0.24,0.15,0.11,0.21,0.32,
           0.14,0.08,0.20,0.17,0.26,0.13,0.18,0.10,0.22,0.15,
           0.29,0.11,0.17,0.21,0.08,0.25,0.14,0.18,0.13,0.20,
           0.10,0.24,0.17,0.14,0.27,0.11,0.21,0.15,0.08,0.18,
           0.22,0.13,0.17,0.31,0.10,0.20,0.14,0.25,0.11,0.17,
           0.21,0.08,0.15,0.26,0.13,0.18,0.10,0.22,0.14,0.20,
           0.17,0.11,0.29,0.15,0.21,0.08,0.18,0.13,0.24,0.14,
           0.17,0.20,0.10,0.25,0.15,0.13,0.22,0.18,0.08,0.27,
           0.14,0.21,0.11,0.17,0.24,0.13,0.20,0.15,0.10,0.30,
           0.18,0.14,0.22,0.11]
PUR_EAS = {3: 0.04, 9: 0.05, 15: 0.03, 22: 0.06, 27: 0.04, 33: 0.05, 38: 0.03, 44: 0.06, 49: 0.04, 55: 0.05,
           61: 0.03, 66: 0.07, 71: 0.04, 77: 0.05, 82: 0.03, 88: 0.06, 93: 0.04, 98: 0.05, 101: 0.03}

CLM_AME = [0.52,0.50,0.49,0.47,0.46,0.44,0.42,0.40,0.39,0.38,
           0.37,0.36,0.36,0.35,0.34,0.34,0.33,0.33,0.32,0.32,
           0.31,0.31,0.30,0.30,0.29,0.29,0.28,0.28,0.28,0.27,
           0.27,0.27,0.26,0.26,0.26,0.25,0.25,0.25,0.24,0.24,
           0.24,0.23,0.23,0.23,0.22,0.22,0.22,0.21,0.21,0.21,
           0.20,0.20,0.20,0.19,0.19,0.19,0.18,0.18,0.18,0.17,
           0.17,0.17,0.16,0.16,0.15,0.15,0.15,0.14,0.14,0.13,
           0.13,0.12,0.12,0.11,0.11,0.10,0.10,0.09,0.09,0.08,
           0.07,0.06,0.05,0.04,0.03,0.03,0.02,0.01,0.00,0.00,
           0.00,0.00,0.00,0.00]
CLM_EAS = [0.02,0.03,0.02,0.02,0.03,0.02,0.03,0.02,0.02,0.03,
           0.02,0.03,0.02,0.02,0.03,0.02,0.02,0.05,0.02,0.03,
           0.02,0.02,0.03,0.02,0.03,0.02,0.02,0.03,0.02,0.02,
           0.03,0.02,0.03,0.02,0.02,0.03,0.02,0.02,0.03,0.02,
           0.03,0.02,0.02,0.03,0.02,0.03,0.02,0.02,0.03,0.02,
           0.02,0.06,0.03,0.02,0.03,0.02,0.03,0.02,0.03,0.02,
           0.03,0.02,0.03,0.04,0.03,0.02,0.03,0.04,0.03,0.04,
           0.03,0.04,0.05,0.04,0.05,0.04,0.05,0.06,0.05,0.06,
           0.07,0.06,0.07,0.08,0.09,0.08,0.10,0.09,0.11,0.10,
           0.12,0.13,0.12,0.14]
CLM_AFR = {4: 0.20, 9: 0.35, 13: 0.10, 15: 0.10, 19: 0.30, 23: 0.25, 25: 0.25, 29: 0.20, 35: 0.30, 37: 0.30,
           40: 0.15, 45: 0.05, 52: 0.10, 58: 0.05, 63: 0.10, 65: 0.30, 70: 0.04, 73: 0.15, 76: 0.30, 81: 0.03}

MXL_AME = [0.84,0.82,0.80,0.79,0.78,0.77,0.76,0.75,0.74,0.73,
           0.72,0.71,0.70,0.69,0.67,0.66,0.65,0.63,0.62,0.61,
           0.60,0.58,0.57,0.56,0.55,0.54,0.53,0.52,0.51,0.50,
           0.49,0.48,0.47,0.46,0.45,0.44,0.43,0.42,0.41,0.40,
           0.39,0.38,0.38,0.37,0.36,0.35,0.34,0.34,0.33,0.32,
           0.31,0.30,0.29,0.28,0.27,0.26,0.24,0.23,0.21,0.19,
           0.15,0.10,0.05,0.02]
MXL_EAS = [0.10,0.08,0.04,0.03,0.03,0.02,0.03,0.02,0.03,0.02,
           0.02,0.03,0.02,0.03,0.02,0.02,0.03,0.04,0.03,0.02,
           0.03,0.02,0.03,0.02,0.02,0.03,0.02,0.03,0.02,0.02,
           0.03,0.02,0.03,0.02,0.02,0.03,0.05,0.08,0.06,0.03,
           0.02,0.03,0.02,0.03,0.02,0.03,0.02,0.02,0.03,0.04,
           0.03,0.04,0.05,0.06,0.05,0.07,0.12,0.16,0.14,0.20,
           0.10,0.08,0.06,0.04]
MXL_AFR = {11: 0.05, 17: 0.08, 22: 0.12, 24: 0.10, 27: 0.12, 29: 0.15, 32: 0.10, 36: 0.03, 40: 0.03, 44: 0.10,
           51: 0.04, 55: 0.04, 58: 0.06, 63: 0.05}

PEL_AME = [0.97,0.96,0.95,0.95,0.94,0.94,0.93,0.93,0.92,0.92,
           0.91,0.91,0.90,0.90,0.90,0.89,0.89,0.88,0.88,0.87,
           0.87,0.86,0.86,0.85,0.85,0.84,0.84,0.83,0.83,0.82,
           0.82,0.81,0.80,0.80,0.79,0.79,0.78,0.77,0.77,0.76,
           0.76,0.75,0.74,0.74,0.73,0.72,0.72,0.71,0.70,0.70,
           0.69,0.68,0.68,0.67,0.66,0.66,0.65,0.64,0.63,0.63,
           0.62,0.61,0.60,0.59,0.58,0.57,0.57,0.56,0.55,0.54,
           0.53,0.52,0.51,0.50,0.49,0.48,0.47,0.46,0.45,0.44,
           0.42,0.41,0.40,0.38,0.36]
PEL_EAS = [0.01,0.02,0.01,0.02,0.02,0.01,0.02,0.03,0.02,0.02,
           0.03,0.02,0.02,0.03,0.02,0.03,0.02,0.04,0.02,0.03,
           0.02,0.03,0.02,0.03,0.04,0.03,0.02,0.03,0.03,0.02,
           0.03,0.04,0.03,0.02,0.03,0.04,0.03,0.03,0.04,0.03,
           0.08,0.04,0.03,0.04,0.03,0.04,0.04,0.03,0.04,0.05,
           0.04,0.03,0.04,0.05,0.04,0.09,0.05,0.04,0.05,0.04,
           0.05,0.04,0.05,0.06,0.05,0.06,0.05,0.06,0.07,0.06,
           0.07,0.06,0.08,0.07,0.12,0.08,0.10,0.09,0.15,0.12,
           0.14,0.16,0.13,0.10,0.03]
PEL_AFR = {18: 0.08, 21: 0.05, 24: 0.05, 29: 0.12, 31: 0.15, 37: 0.05, 42: 0.08, 55: 0.04, 61: 0.05, 68: 0.06,
           69: 0.10, 73: 0.10, 74: 0.15, 76: 0.12, 81: 0.05, 84: 0.28}

# reference groups in the K=4 overview (sizes and the few admixed individuals)
N_AFR_1K, N_EUR_1K, N_EAS_1K, N_AME = 497, 502, 397, 60
AFR_1K_EUR = {34: 0.04, 94: 0.06, 121: 0.05, 161: 0.08, 215: 0.05, 255: 0.04, 282: 0.07, 322: 0.05, 389: 0.06, 423: 0.04, 470: 0.05}
AFR_1K_EAS = {60: 0.03, 150: 0.04, 300: 0.03}
EUR_1K_AFR = {242: 0.04, 295: 0.05, 322: 0.03, 362: 0.05, 403: 0.04}
EUR_1K_AME = {134: 0.05, 161: 0.03, 188: 0.05, 215: 0.04, 470: 0.03}
EAS_1K_AME = {62: 0.05, 75: 0.04, 142: 0.05, 196: 0.06, 344: 0.04, 371: 0.05}
EAS_1K_AFR = {250: 0.03}
AME_EUR = {30: 0.12, 35: 0.25, 40: 0.20, 44: 0.30, 48: 0.15, 52: 0.28, 55: 0.10}
AME_EAS = {40: 0.04, 44: 0.05}

PC2_LIM = (14.79, -14.11)   # plotting limits, left -> right
PC1_LIM = (-19.35, 12.28)   # bottom -> top
PC2_TICKS = [-10, -5, 0, 5, 10]
PC1_TICKS = [-15, -10, -5, 0, 5, 10]
LEGEND_TEXT = ["1K AFR", "1K EUR", "1K E ASN", "CEPH AME"]

# ------------------------------------------------------------------
# styling
# ------------------------------------------------------------------
FONT = "Liberation Sans"
FRAME = "#4a4a4a"
COMPS = ["AFR", "EUR", "EAS", "AME"]
REF_COLORS = {"AFR": "#FFA54F", "EUR": "#ADD8E6", "EAS": "#90EE90", "AME": "#F08080"}
LEGEND_COLORS = ["#FFA500", "#ADD8E6", "#90EE90", "#F59A96"]
BAR_SMALL = {"AFR": "#FF9E4F", "EUR": "#B8E2F8", "EAS": "#9CF59C", "AME": "#E98585"}
BAR_BIG = {"AFR": "#FDB47C", "EUR": "#C2E7FA", "EAS": "#ABFBAA", "AME": "#E79191"}
ORDER_AFR = ["AFR", "EUR", "EAS", "AME"]   # stacked from the right edge
ORDER_AME = ["AME", "EAS", "EUR", "AFR"]

ADMIX = {
    "ACB": ({"AFR": ACB_AFR, "EAS": ACB_EAS, "AME": ACB_AME}, ORDER_AFR),
    "ASW": ({"AFR": ASW_AFR, "EAS": ASW_EAS, "AME": ASW_AME}, ORDER_AFR),
    "PUR": ({"AFR": PUR_AFR, "AME": PUR_AME, "EAS": PUR_EAS}, ORDER_AFR),
    "CLM": ({"AME": CLM_AME, "EAS": CLM_EAS, "AFR": CLM_AFR}, ORDER_AME),
    "MXL": ({"AME": MXL_AME, "EAS": MXL_EAS, "AFR": MXL_AFR}, ORDER_AME),
    "PEL": ({"AME": PEL_AME, "EAS": PEL_EAS, "AFR": PEL_AFR}, ORDER_AME),
}
SAMPLES = {
    "ACB": (ACB_PTS, ACB_OUT), "ASW": (ASW_PTS, ASW_OUT), "PUR": (PUR_PTS, PUR_OUT),
    "CLM": (CLM_PTS, CLM_OUT), "MXL": (MXL_PTS, MXL_OUT), "PEL": (PEL_PTS, PEL_OUT),
}
# rows of the bar marked with a pointer (the labelled samples)
MARKED_ROWS = {"ACB": [93, 94, 95], "ASW": [57, 58, 59, 60], "PUR": [0, 1], "PEL": [84]}
# pixel offset of each sample label from its point
LABEL_OFF = {
    "HG01880": (-10, 28), "HG02420": (-3, -31), "HG01988": (11, -29),
    "HG20278": (-11, -27), "HG20274": (9, -30), "HG20299": (-12.5, 5), "HG20314": (12, -24),
    "HG01241": (-4, 31), "HG01108": (-8, 28), "HG02006": (-12, -26),
}

# panel geometry (pixels inside each figure)
COLS = {
    "L": dict(w=590, frame_l=2, box_l=91, box_r=508, bar_l=21, bar_r=65, tri_x=13.5, title_dx=-22.5,
              rows=[dict(h=550, box_t=13, box_b=476), dict(h=554, box_t=15, box_b=478),
                    dict(h=518, box_t=11, box_b=474)]),
    "R": dict(w=537, frame_l=1, box_l=78, box_r=495, bar_l=10, bar_r=55, tri_x=4.0, title_dx=-27,
              rows=[dict(h=550, box_t=13, box_b=476), dict(h=554, box_t=15, box_b=478),
                    dict(h=522, box_t=15, box_b=478)]),
}
ROW_PX = 3.345


def fractions(n, given, rest="EUR"):
    fr = {}
    for c, g in given.items():
        if isinstance(g, dict):
            fr[c] = [g.get(i, 0.0) for i in range(n)]
        else:
            fr[c] = [float(v) for v in g[:n]] + [0.0] * max(0, n - len(g))
    for c in COMPS:
        if c not in fr and c != rest:
            fr[c] = [0.0] * n
    fr[rest] = [max(0.0, 1.0 - sum(fr[c][i] for c in COMPS if c != rest)) for i in range(n)]
    return fr


def stack(fr, order, rows, base=0.0, height=1.0, cap=None):
    L, R, B, T, C = [], [], [], [], []
    for i in rows:
        cum = 0.0
        for comp in order:
            f = fr[comp][i]
            if f <= 0.001:
                continue
            R.append(1.0 - cum)
            L.append(1.0 - cum - f)
            B.append(base + i)
            top = base + i + height
            if cap is not None:
                top = min(top, cap)
            T.append(top)
            C.append(comp)
            cum += f
    return L, R, B, T, C


def style_axis(ax, orient):
    ax.axis_line_color = None
    ax.major_tick_line_color = FRAME
    ax.major_tick_in = 2
    ax.major_tick_out = 5
    ax.minor_tick_line_color = None
    ax.major_label_text_font = FONT
    ax.major_label_text_font_size = "14px"
    ax.major_label_text_color = "black"
    ax.major_label_orientation = orient
    ax.axis_label_text_font = FONT
    ax.axis_label_text_font_size = "16.5px"
    ax.axis_label_text_font_style = "normal"
    ax.axis_label_text_color = "black"


def panel(pop, col, ri):
    G = COLS[col]
    V = G["rows"][ri]
    fw, fh = G["w"], V["h"]
    bl, br, bt, bb = G["box_l"], G["box_r"], V["box_t"], V["box_b"]
    fl, fr_, ft, fb = G["frame_l"], br + 2, bt - 2, bb + 2
    sx = (br - bl) / (PC2_LIM[0] - PC2_LIM[1])
    sy = (bb - bt) / (PC1_LIM[1] - PC1_LIM[0])
    xs = PC2_LIM[0] + (bl - fl) / sx
    xe = PC2_LIM[1] - (fr_ - br) / sx
    ys = PC1_LIM[0] - (fb - bb) / sy
    ye = PC1_LIM[1] + (bt - ft) / sy

    def to_data(px, py):
        return xs - (px - fl) / sx, ye - (py - ft) / sy

    def to_px(dx, dy):
        return fl + (xs - dx) * sx, ft + (ye - dy) * sy

    p = figure(width=fw, height=fh, x_range=Range1d(xs, xe), y_range=Range1d(ys, ye),
               x_axis_type=None, y_axis_type=None, title=None, toolbar_location=None,
               output_backend="svg", min_border_left=fl, min_border_right=fw - fr_,
               min_border_top=ft, min_border_bottom=fh - fb)
    p.outline_line_color = None
    p.background_fill_color = "white"
    p.border_fill_color = "white"

    # ---- admixture bar for this population
    given, order = ADMIX[pop]
    n = len(given[order[0]])
    fr = fractions(n, given)
    bar_bottom = bb - 1.5
    bw = G["bar_r"] - G["bar_l"]
    bxs = -(G["bar_l"] - fl) / bw
    bxe = bxs + (fr_ - fl) / bw
    bys = -(fb - bar_bottom) / ROW_PX
    bye = bys + (fb - ft) / ROW_PX
    p.extra_x_ranges = {"bx": Range1d(bxs, bxe)}
    p.extra_y_ranges = {"by": Range1d(bys, bye)}
    L, R, B, T, C = stack(fr, order, range(n))
    p.quad(left=L, right=R, bottom=B, top=T, fill_color=[BAR_SMALL[c] for c in C],
           line_color="white", line_alpha=0.45, line_width=0.6,
           x_range_name="bx", y_range_name="by")
    p.quad(left=[0], right=[1], bottom=[0], top=[n], fill_color=None, line_color="#3a3a3a",
           line_width=1, x_range_name="bx", y_range_name="by")
    if pop in MARKED_ROWS:
        tx = (G["tri_x"] - G["bar_l"]) / bw
        rows_m = MARKED_ROWS[pop]
        p.scatter([tx] * len(rows_m), [r + 0.5 for r in rows_m], marker="triangle",
                  angle=-math.pi / 2, size=10, fill_color="#6a6a6a", line_color="#6a6a6a",
                  x_range_name="bx", y_range_name="by")

    # ---- PCA box and points
    p.quad(left=[PC2_LIM[0]], right=[PC2_LIM[1]], bottom=[PC1_LIM[0]], top=[PC1_LIM[1]],
           fill_color=None, line_color=FRAME, line_width=1)
    for key, pts in (("AFR", AFR_REF), ("EUR", EUR_REF), ("EAS", EAS_REF), ("AME", AME_REF)):
        p.scatter([a for a, b in pts], [b for a, b in pts], size=6.7,
                  fill_color=REF_COLORS[key], line_color=None)
    pts, out = SAMPLES[pop]
    allpts = list(pts) + list(out.values())
    p.scatter([a for a, b in allpts], [b for a, b in allpts], size=6.8,
              fill_color="black", line_color=None)

    # sample labels
    if out:
        lx, ly, lt = [], [], []
        for name, (a, b) in out.items():
            px, py = to_px(a, b)
            ox, oy = LABEL_OFF[name]
            dx, dy = to_data(px + ox, py + oy)
            lx.append(dx); ly.append(dy); lt.append(name)
        p.text(lx, ly, lt, angle=math.pi / 2, text_align="center", text_baseline="middle",
               text_font=value(FONT), text_font_size="9.5px", text_color="#7f7f7f")

    # title
    tx, ty = to_data(bl + G["title_dx"], bt)
    p.text([tx], [ty], [f"{len(allpts)} {pop}"], angle=math.pi / 2, text_align="right",
           text_baseline="alphabetic", text_font=value(FONT), text_font_size="23.5px",
           text_color="black")

    # legend of the reference panels
    if pop == "ACB":
        dxs, dys, txs, tys = [], [], [], []
        for i in range(4):
            px = bl + 21.7 + 26.5 * i
            py = bb - 21.7
            d = to_data(px, py)
            t = to_data(px, py - 17)
            dxs.append(d[0]); dys.append(d[1]); txs.append(t[0]); tys.append(t[1])
        p.scatter(dxs, dys, size=7.5, fill_color=LEGEND_COLORS, line_color=None)
        p.text(txs, tys, LEGEND_TEXT, angle=math.pi / 2, text_align="left",
               text_baseline="middle", text_font=value(FONT), text_font_size="13px",
               text_color="black")

    # axes
    xa = LinearAxis(ticker=FixedTicker(ticks=PC2_TICKS))
    style_axis(xa, math.pi)
    xa.major_label_standoff = 17
    ya = LinearAxis(ticker=FixedTicker(ticks=PC1_TICKS))
    style_axis(ya, math.pi / 2)
    ya.major_label_standoff = 17
    if pop == "ASW":
        xa.axis_label = "PC2  23.9%"
        xa.axis_label_standoff = 14
        ya.axis_label = "PC1  30.3%"
        ya.axis_label_standoff = 17
        if hasattr(xa, "axis_label_orientation"):
            xa.axis_label_orientation = math.pi
            ya.axis_label_orientation = math.pi / 2
    p.add_layout(xa, "below")
    p.add_layout(ya, "right")
    return p


# ------------------------------------------------------------------
# K=4 overview bar
# ------------------------------------------------------------------
def overview():
    W, H = 170, 1613
    bar_l, bar_r, bar_b, per = 40.7, 123.3, 1291.2, 0.5605
    bw = bar_r - bar_l
    xs = -bar_l / bw
    xe = xs + W / bw
    ys = -(H - bar_b) / per
    ye = ys + H / per
    p = figure(width=W, height=H, x_range=Range1d(xs, xe), y_range=Range1d(ys, ye),
               x_axis_type=None, y_axis_type=None, title=None, toolbar_location=None,
               output_backend="svg", min_border=0)
    p.outline_line_color = None
    p.background_fill_color = "white"
    p.border_fill_color = "white"

    groups = [
        ("1000 Genomes Africans", N_AFR_1K, {"EUR": AFR_1K_EUR, "EAS": AFR_1K_EAS}, ORDER_AFR, "AFR"),
        ("1000 Genomes Europeans", N_EUR_1K, {"AFR": EUR_1K_AFR, "AME": EUR_1K_AME}, ORDER_AFR, "EUR"),
        ("1000 Genomes East Asians", N_EAS_1K, {"AME": EAS_1K_AME, "AFR": EAS_1K_AFR}, ORDER_AFR, "EAS"),
        ("Ame.", N_AME, {"EUR": AME_EUR, "EAS": AME_EAS}, ORDER_AFR, "AME"),
    ]
    for pop in ["ACB", "ASW", "PUR", "CLM", "MXL", "PEL"]:
        given, order = ADMIX[pop]
        groups.append((pop, len(given[order[0]]), given, order, None))

    base = 0
    lab_x, lab_y, lab_t = [], [], []
    box_b, box_t = [], []
    for label, n, given, order, main in groups:
        if main is not None:
            fr = fractions(n, given, rest=main)
            p.quad(left=[0], right=[1], bottom=[base], top=[base + n],
                   fill_color=BAR_BIG[main], line_color=None)
            rows = sorted({i for g in given.values() for i in g})
        else:
            fr = fractions(n, given)
            rows = range(n)
        L, R, B, T, C = stack(fr, order, rows, base=base, height=1.8, cap=base + n)
        p.quad(left=L, right=R, bottom=B, top=T, fill_color=[BAR_BIG[c] for c in C],
               line_color=None)
        box_b.append(base); box_t.append(base + n)
        lab_x.append((20.5 - bar_l) / bw)
        lab_y.append(base + n / 2)
        lab_t.append(label)
        base += n
    p.quad(left=[0] * len(box_b), right=[1] * len(box_b), bottom=box_b, top=box_t,
           fill_color=None, line_color="#2b2b2b", line_width=1)
    p.text(lab_x, lab_y, lab_t, angle=math.pi / 2, text_align="center",
           text_baseline="alphabetic", text_font=value(FONT), text_font_size="12.5px",
           text_color="black")
    kx = (76 - bar_l) / bw
    ky = -(1336.7 - bar_b) / per
    p.text([kx], [ky], ["K:4"], angle=math.pi / 2, text_align="center",
           text_baseline="alphabetic", text_font=value(FONT), text_font_size="24px",
           text_color="black")
    return p


left_col = column(panel("PUR", "L", 0), panel("ASW", "L", 1), panel("ACB", "L", 2), spacing=0)
right_col = column(panel("PEL", "R", 0), panel("MXL", "R", 1), panel("CLM", "R", 2), spacing=0)
layout = row(overview(), left_col, right_col, spacing=0)

html = file_html(layout, INLINE)
html = html.replace("<head>", "<head><style>html, body { margin: 0; overflow: hidden; }</style>", 1)
open("out.html", "w").write(html)
